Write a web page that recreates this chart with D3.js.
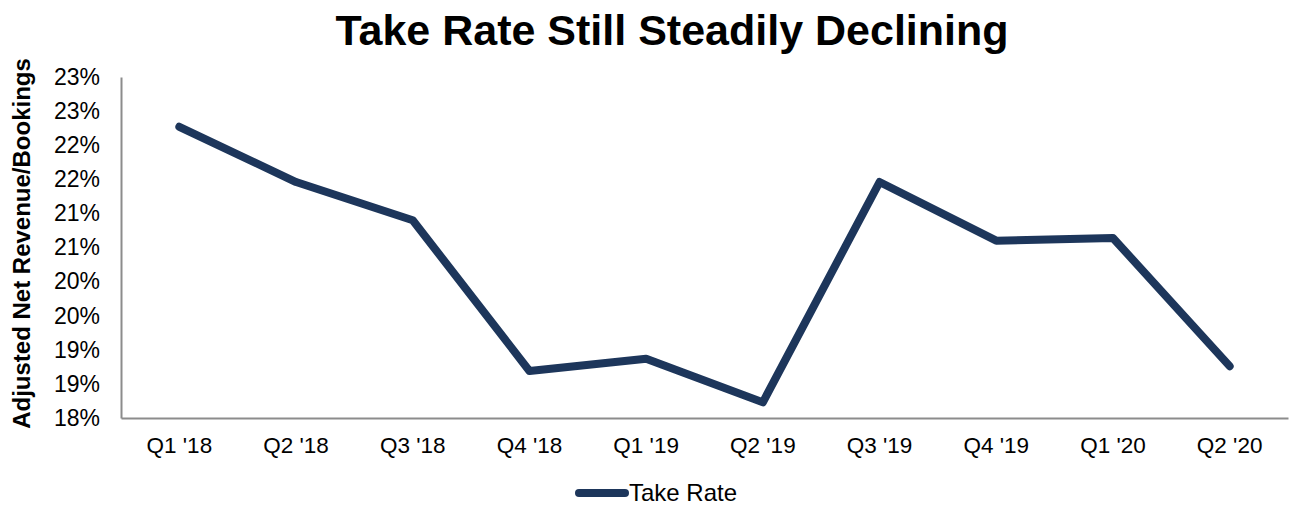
<!DOCTYPE html>
<html>
<head>
<meta charset="utf-8">
<script src="https://cdn.jsdelivr.net/npm/d3@7"></script>
<style>
  html, body { margin: 0; padding: 0; background: #fff; }
  svg { display: block; font-family: "Liberation Sans", Arial, sans-serif; }
</style>
</head>
<body>
<svg id="chart" width="1294" height="506"></svg>
<script>
// Quarterly take rate (adjusted net revenue / bookings, %)
const quarters = ["Q1 '18", "Q2 '18", "Q3 '18", "Q4 '18", "Q1 '19", "Q2 '19", "Q3 '19", "Q4 '19", "Q1 '20", "Q2 '20"];
const takeRate = [22.27, 21.46, 20.90, 18.69, 18.87, 18.23, 21.46, 20.60, 20.64, 18.76];
const yTickValues = [18, 18.5, 19, 19.5, 20, 20.5, 21, 21.5, 22, 22.5, 23];
const yTickLabels = ["18%", "19%", "19%", "20%", "20%", "21%", "21%", "22%", "22%", "23%", "23%"];

const svg = d3.select("#chart");
const margin = { left: 121, right: 6, top: 77, bottom: 88 };
const W = 1294, H = 506;
const lineColor = "#1d365b";
const axisColor = "#8c8c8c";

const x = d3.scaleBand().domain(quarters).range([margin.left, W - margin.right]);
const y = d3.scaleLinear().domain([18, 23]).range([H - margin.bottom, margin.top]);

// Title
svg.append("text")
  .attr("x", 672).attr("y", 45)
  .attr("text-anchor", "middle")
  .style("font-size", "43px").style("font-weight", "bold")
  .text("Take Rate Still Steadily Declining");

// Y axis
const yAxis = svg.append("g")
  .attr("transform", `translate(${margin.left},0)`)
  .call(d3.axisLeft(y).tickValues(yTickValues)
    .tickFormat((d, i) => yTickLabels[i]).tickSize(0).tickPadding(21));
yAxis.select(".domain").attr("stroke", axisColor).attr("stroke-width", 2);
yAxis.selectAll("text").style("font-size", "23px").attr("fill", "#000");

// X axis
const xAxis = svg.append("g")
  .attr("transform", `translate(0,${y(18)})`)
  .call(d3.axisBottom(x).tickSize(0).tickPadding(19));
xAxis.select(".domain").attr("stroke", axisColor).attr("stroke-width", 2);
xAxis.selectAll("text").style("font-size", "22.5px").attr("fill", "#000");

// Y axis title
svg.append("text")
  .attr("transform", `translate(30,${(y(18) + y(23)) / 2 - 4}) rotate(-90)`)
  .attr("text-anchor", "middle")
  .style("font-size", "24px").style("font-weight", "bold")
  .text("Adjusted Net Revenue/Bookings");

// Line
const line = d3.line()
  .x((d, i) => x(quarters[i]) + x.bandwidth() / 2)
  .y(d => y(d));
svg.append("path")
  .datum(takeRate)
  .attr("d", line)
  .attr("fill", "none")
  .attr("stroke", lineColor)
  .attr("stroke-width", 8)
  .attr("stroke-linecap", "round")
  .attr("stroke-linejoin", "round");

// Legend
const lg = svg.append("g").attr("transform", "translate(0,493)");
lg.append("line")
  .attr("x1", 579).attr("x2", 625)
  .attr("stroke", lineColor).attr("stroke-width", 8).attr("stroke-linecap", "round");
lg.append("text")
  .attr("x", 629).attr("y", 8)
  .style("font-size", "24px")
  .text("Take Rate");
</script>
</body>
</html>
